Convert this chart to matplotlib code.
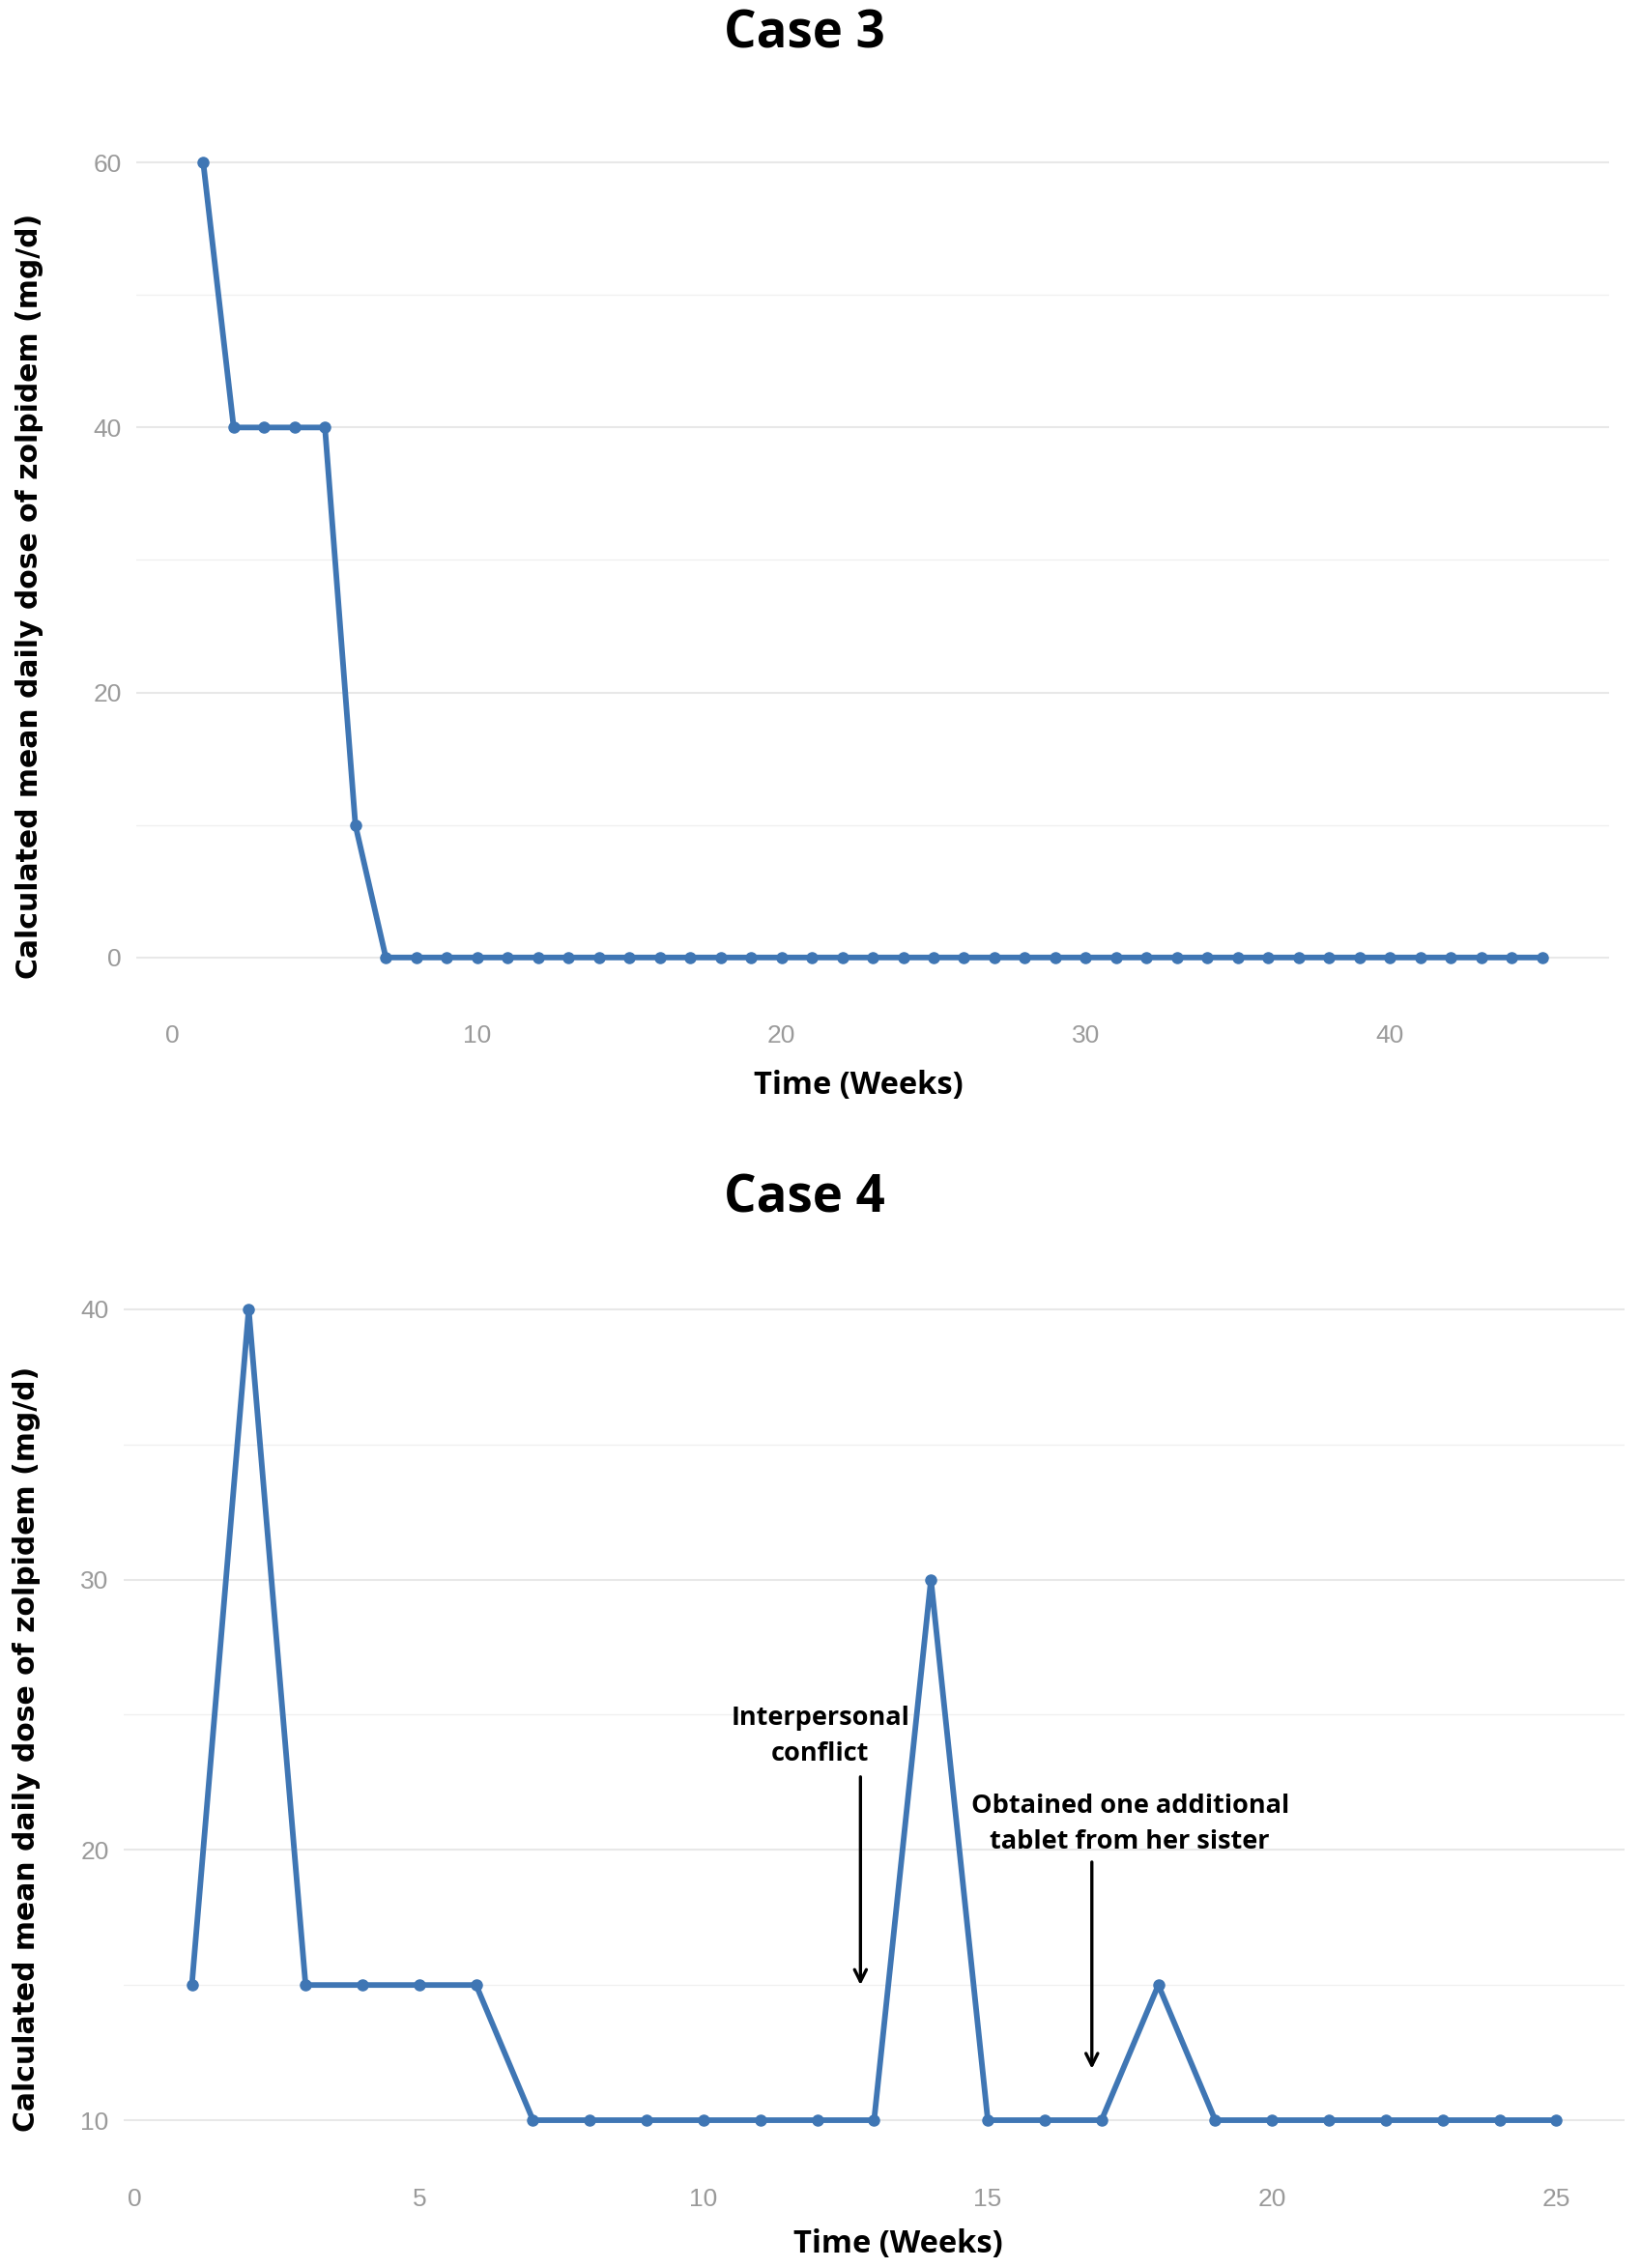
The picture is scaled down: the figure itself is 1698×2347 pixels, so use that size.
import matplotlib
matplotlib.use("Agg")
import matplotlib.pyplot as plt
from matplotlib.ticker import MultipleLocator

# case 3: weeks 1..45
weeks3 = list(range(1, 46))
dose3 = [60, 40, 40, 40, 40, 10] + [0] * 39

# case 4: weeks 1..25
weeks4 = list(range(1, 26))
dose4 = [15, 40, 15, 15, 15, 15, 10, 10, 10, 10, 10, 10, 10, 30,
         10, 10, 10, 15, 10, 10, 10, 10, 10, 10, 10]

ylab = "Calculated mean daily dose of zolpidem (mg/d)"
xlab = "Time (Weeks)"
line_col = "#3F76B4"
tick_col = "#9A9A9A"
tick_font = ["Liberation Sans Narrow", "Liberation Sans", "DejaVu Sans"]

fig = plt.figure(figsize=(16.99, 23.47), dpi=100)
ax1 = fig.add_axes([0.083, 0.5603, 0.897, 0.3856])
ax2 = fig.add_axes([0.0753, 0.0473, 0.9141, 0.3933])


def style(ax, xmaj, ymaj, ymin):
    for s in ax.spines.values():
        s.set_visible(False)
    ax.xaxis.set_major_locator(MultipleLocator(xmaj))
    ax.yaxis.set_major_locator(MultipleLocator(ymaj))
    ax.yaxis.set_minor_locator(MultipleLocator(ymin))
    ax.grid(axis="y", which="major", color="#E8E8E8", linewidth=1.5)
    ax.grid(axis="y", which="minor", color="#F0F0F0", linewidth=1.0)
    ax.set_axisbelow(True)
    ax.tick_params(axis="both", which="both", length=0, colors=tick_col,
                   labelsize=19)
    ax.tick_params(axis="x", pad=20)
    ax.tick_params(axis="y", pad=11)
    for lab in ax.get_xticklabels() + ax.get_yticklabels():
        lab.set_family(tick_font)


# top panel
ax1.plot(weeks3, dose3, color=line_col, linewidth=4.2, marker="o",
         markersize=8)
ax1.set_xlim(-1.2, 47.2)
ax1.set_ylim(-3, 63)
style(ax1, 10, 20, 10)

# bottom panel
ax2.plot(weeks4, dose4, color=line_col, linewidth=4.2, marker="o",
         markersize=8)
ax2.set_xlim(-0.2, 26.2)
ax2.set_ylim(8.5, 41.5)
style(ax2, 5, 10, 5)

ann_font = dict(fontsize=19.5, fontweight="bold", family="Open Sans",
                ha="center", va="center", linespacing=1.55)
ax2.text(12.05, 24.2, "Interpersonal\nconflict", **ann_font)
ax2.annotate("", xy=(12.76, 14.9), xytext=(12.76, 22.8),
             arrowprops=dict(arrowstyle="->", color="black", lw=2.4,
                             mutation_scale=22))
ax2.text(17.5, 20.95, "Obtained one additional\ntablet from her sister",
         **ann_font)
ax2.annotate("", xy=(16.83, 11.8), xytext=(16.83, 19.65),
             arrowprops=dict(arrowstyle="->", color="black", lw=2.4,
                             mutation_scale=22))

# titles and axis labels
title_font = dict(fontsize=38, fontweight="bold", family="Open Sans",
                  ha="center", va="center")
fig.text(0.490, 0.985, "Case 3", **title_font)
fig.text(0.490, 0.4715, "Case 4", **title_font)

ylab_font = dict(fontsize=21.5, fontweight="bold", family="DejaVu Sans",
                 rotation=90, ha="center", va="center")
fig.text(0.0177, 0.737, ylab, **ylab_font)
fig.text(0.0159, 0.229, ylab, **ylab_font)

xlab_font = dict(fontsize=23.5, fontweight="bold", family="Open Sans",
                 ha="center", va="center")
fig.text(0.5227, 0.5215, xlab, **xlab_font)
fig.text(0.547, 0.0105, xlab, **xlab_font)

fig.savefig("out.png", dpi=100, facecolor="white")
